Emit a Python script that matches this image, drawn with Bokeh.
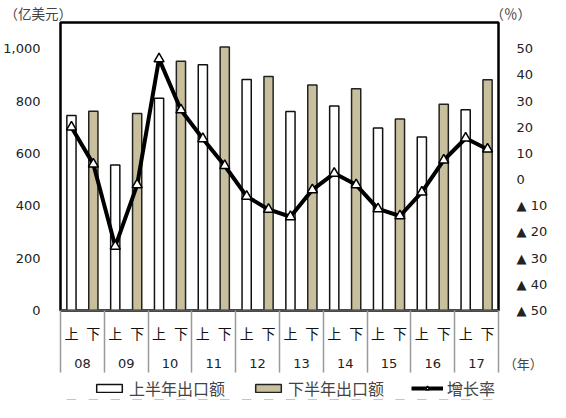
from bokeh.plotting import figure
from bokeh.layouts import column
from bokeh.models import (Range1d, LinearAxis, FixedTicker, NumeralTickFormatter,
                          Title, Legend, LegendItem)
from bokeh.embed import file_html
from bokeh.resources import INLINE

years = ["08", "09", "10", "11", "12", "13", "14", "15", "16", "17"]
halves = ["上", "下"]
first_half = [745, 556, 811, 939, 882, 760, 781, 697, 663, 767]
second_half = [761, 752, 952, 1006, 894, 861, 847, 731, 788, 881]
growth = [20.0, 5.9, -25.5, -2.0, 46.1, 26.6, 15.6, 5.3, -6.4, -11.4,
          -14.2, -3.9, 2.4, -2.0, -11.2, -13.9, -4.8, 7.4, 15.8, 11.6]
left_ticks = [0, 200, 400, 600, 800, 1000]
right_ticks = [50, 40, 30, 20, 10, 0, -10, -20, -30, -40, -50]
right_tick_labels = ["50", "40", "30", "20", "10", "0",
                     "▲ 10", "▲ 20", "▲ 30", "▲ 40", "▲ 50"]
unit_left, unit_right, unit_x = "（亿美元）", "（％）", "（年）"
legend_labels = ["上半年出口额", "下半年出口额", "增长率"]

TAN = "#C8BF9C"
CJK = "Noto Sans CJK JP"
GAP = "\u3000"
WHITE_BAR = dict(fill_color="white", line_color="#111111", line_width=1.5)
TAN_BAR = dict(fill_color=TAN, line_color="#222222", line_width=1.5)
LINE = dict(line_color="black", line_width=4)
MARK = dict(marker="triangle", size=10, fill_color="white", line_color="black", line_width=1.5)

n = len(years)
x_first = [2 * i + 0.5 for i in range(n)]
x_second = [2 * i + 1.5 for i in range(n)]
x_line = [k + 0.5 for k in range(2 * n)]

p = figure(width=550, height=376, x_range=Range1d(0, 2 * n), y_range=Range1d(0, 1100),
           output_backend="svg", toolbar_location=None,
           x_axis_location=None, y_axis_location=None,
           min_border_left=56, min_border_right=43, min_border_top=10, min_border_bottom=66)
p.extra_y_ranges = {"rate": Range1d(-50, 60)}
p.grid.visible = False
p.outline_line_color = "black"
p.outline_line_width = 2.5

p.title = Title(text=unit_left + GAP * 32 + unit_right, align="left", offset=-56, standoff=0,
                text_font=CJK, text_font_size="13.5px", text_font_style="normal",
                text_color="#444444")

yaxis = LinearAxis(ticker=FixedTicker(ticks=left_ticks),
                   formatter=NumeralTickFormatter(format="0,0"),
                   major_tick_line_color=None, minor_tick_line_color=None,
                   axis_line_color=None, major_label_standoff=14,
                   major_label_text_font="DejaVu Sans",
                   major_label_text_font_size="13px",
                   major_label_text_color="#222222")
p.add_layout(yaxis, "left")

raxis = LinearAxis(y_range_name="rate", ticker=FixedTicker(ticks=right_ticks),
                   major_label_overrides={t: s for t, s in zip(right_ticks, right_tick_labels)},
                   major_tick_line_color=None, minor_tick_line_color=None,
                   axis_line_color=None, major_label_standoff=12,
                   major_label_text_font="DejaVu Sans",
                   major_label_text_font_size="13px",
                   major_label_text_color="#222222")
p.add_layout(raxis, "right")

half_over = {t: halves[k % 2] for k, t in enumerate(x_line)}
seps = [2 * i for i in range(n + 1)]
xa = LinearAxis(ticker=FixedTicker(ticks=x_line, minor_ticks=seps),
                major_label_overrides=half_over,
                major_tick_line_color=None,
                minor_tick_out=62, minor_tick_in=0,
                minor_tick_line_color="#9a9a9a", minor_tick_line_width=1.5,
                axis_line_color="#555555", axis_line_width=2,
                major_label_standoff=-50,
                major_label_text_font=CJK,
                major_label_text_font_size="14px",
                major_label_text_color="#111111")
year_ticks = [2 * i + 1 for i in range(n)]
xb = LinearAxis(ticker=FixedTicker(ticks=year_ticks),
                major_label_overrides={t: years[i] for i, t in enumerate(year_ticks)},
                major_tick_line_color=None, minor_tick_line_color=None,
                axis_line_color=None, major_label_standoff=7,
                major_label_text_font="DejaVu Sans",
                major_label_text_font_size="13px",
                major_label_text_color="#222222",
                axis_label=GAP * 38 + unit_x, axis_label_standoff=-17,
                axis_label_text_font=CJK, axis_label_text_font_size="13px",
                axis_label_text_font_style="normal", axis_label_text_color="#444444")
p.add_layout(xa, "below")
p.add_layout(xb, "below")

p.vbar(x=x_first, top=first_half, bottom=0, width=0.42, **WHITE_BAR)
p.vbar(x=x_second, top=second_half, bottom=0, width=0.42, **TAN_BAR)
p.line(x=x_line, y=growth, y_range_name="rate", **LINE)
p.scatter(x=x_line, y=growth, y_range_name="rate", **MARK)

# legend strip (same series drawn out of view; only the legend shows)
q = figure(width=550, height=24, x_range=Range1d(0, 2 * n), y_range=Range1d(5000, 5100),
           output_backend="svg", toolbar_location=None,
           x_axis_location=None, y_axis_location=None,
           min_border_left=0, min_border_right=0, min_border_top=0, min_border_bottom=0)
q.grid.visible = False
q.grid.grid_line_color = None
q.axis.visible = False
q.outline_line_color = None
e1 = q.vbar(x=x_first, top=first_half, bottom=0, width=0.42, **WHITE_BAR)
e2 = q.vbar(x=x_second, top=second_half, bottom=0, width=0.42, **TAN_BAR)
e3 = q.line(x=x_line, y=growth, **LINE)
e4 = q.scatter(x=x_line, y=growth, **MARK)
legend = Legend(items=[LegendItem(label=legend_labels[0], renderers=[e1]),
                       LegendItem(label=legend_labels[1], renderers=[e2]),
                       LegendItem(label=legend_labels[2], renderers=[e3, e4])],
                location=(33, 0), orientation="horizontal",
                glyph_width=32, glyph_height=10,
                label_text_font=CJK, label_text_font_size="16px",
                label_standoff=4, spacing=27, padding=0, margin=0,
                border_line_color=None, background_fill_alpha=0)
q.add_layout(legend, "center")

open("out.html", "w").write(file_html(column(p, q, spacing=0), INLINE))
